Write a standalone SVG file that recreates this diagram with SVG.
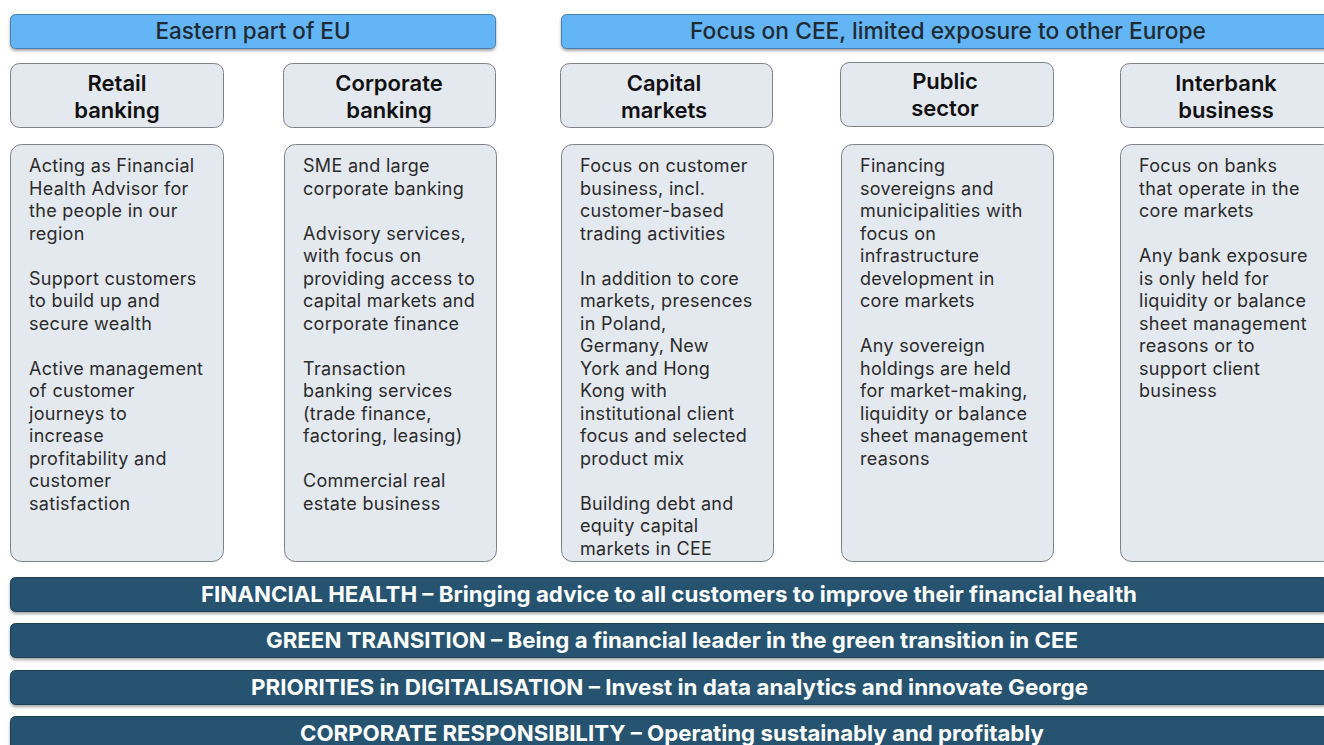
<svg xmlns="http://www.w3.org/2000/svg" width="1324" height="745" viewBox="0 0 1324 745">
<defs>
<filter id="sh" x="-5%" y="-30%" width="110%" height="180%">
<feDropShadow dx="0" dy="2" stdDeviation="1.5" flood-color="#000" flood-opacity="0.35"/>
</filter>
</defs>
<style>
.hdr{fill:#64b5f6;stroke:#4b7fae;stroke-width:1;filter:url(#sh)}
.hdrt{font-family:Inter,"Liberation Sans",sans-serif;font-size:22.5px;font-weight:500;fill:#1f2a33;text-anchor:middle}
.ttl{fill:#e4e8ef;stroke:#7d8288;stroke-width:1}
.ttlt{font-family:Inter,"Liberation Sans",sans-serif;font-size:22px;font-weight:600;fill:#111;text-anchor:middle}
.body{fill:#e4e8ef;stroke:#7d8288;stroke-width:1}
.bt{font-family:Inter,"Liberation Sans",sans-serif;font-size:18px;font-weight:400;fill:#2b2b2b;letter-spacing:0.3px}
.bar{fill:#25536f;stroke:#1d3f55;stroke-width:1;filter:url(#sh)}
.bart{font-family:Inter,"Liberation Sans",sans-serif;font-size:22px;font-weight:700;fill:#fff;text-anchor:middle}
</style>
<rect width="1324" height="745" fill="#fff"/>
<g id="hdr-eu">
<rect class="hdr" x="10.5" y="14.5" width="485" height="34" rx="5"/>
<text class="hdrt" x="253" y="39" textLength="195" lengthAdjust="spacingAndGlyphs">Eastern part of EU</text>
</g>
<g id="hdr-cee">
<rect class="hdr" x="561.5" y="14.5" width="775" height="34" rx="5"/>
<text class="hdrt" x="948" y="39" textLength="516" lengthAdjust="spacingAndGlyphs">Focus on CEE, limited exposure to other Europe</text>
</g>
<g id="t-retail">
<rect class="ttl" x="10.5" y="63.5" width="213" height="64" rx="9"/>
<text class="ttlt" x="117" y="90.5">Retail</text><text class="ttlt" x="117" y="117.5">banking</text>
</g>
<g id="t-corp">
<rect class="ttl" x="283.5" y="63.5" width="212" height="64" rx="9"/>
<text class="ttlt" x="389" y="90.5">Corporate</text><text class="ttlt" x="389" y="117.5">banking</text>
</g>
<g id="t-cap">
<rect class="ttl" x="560.5" y="63.5" width="212" height="64" rx="9"/>
<text class="ttlt" x="664" y="90.5">Capital</text><text class="ttlt" x="664" y="117.5">markets</text>
</g>
<g id="t-pub">
<rect class="ttl" x="840.5" y="62.5" width="213" height="64" rx="9"/>
<text class="ttlt" x="945" y="88.5">Public</text><text class="ttlt" x="945" y="115.5">sector</text>
</g>
<g id="t-inter">
<rect class="ttl" x="1120.5" y="63.5" width="213" height="64" rx="9"/>
<text class="ttlt" x="1226" y="90.5">Interbank</text><text class="ttlt" x="1226" y="117.5">business</text>
</g>
<g id="b-retail">
<rect class="body" x="10.5" y="144.5" width="213" height="417" rx="11"/>
<text class="bt" x="29" y="172"><tspan x="29">Acting as Financial</tspan><tspan x="29" dy="22.5">Health Advisor for</tspan><tspan x="29" dy="22.5">the people in our</tspan><tspan x="29" dy="22.5">region</tspan><tspan x="29" dy="45">Support customers</tspan><tspan x="29" dy="22.5">to build up and</tspan><tspan x="29" dy="22.5">secure wealth</tspan><tspan x="29" dy="45">Active management</tspan><tspan x="29" dy="22.5">of customer</tspan><tspan x="29" dy="22.5">journeys to</tspan><tspan x="29" dy="22.5">increase</tspan><tspan x="29" dy="22.5">profitability and</tspan><tspan x="29" dy="22.5">customer</tspan><tspan x="29" dy="22.5">satisfaction</tspan></text>
</g>
<g id="b-corp">
<rect class="body" x="284.5" y="144.5" width="212" height="417" rx="11"/>
<text class="bt" x="303" y="172"><tspan x="303">SME and large</tspan><tspan x="303" dy="22.5">corporate banking</tspan><tspan x="303" dy="45">Advisory services,</tspan><tspan x="303" dy="22.5">with focus on</tspan><tspan x="303" dy="22.5">providing access to</tspan><tspan x="303" dy="22.5">capital markets and</tspan><tspan x="303" dy="22.5">corporate finance</tspan><tspan x="303" dy="45">Transaction</tspan><tspan x="303" dy="22.5">banking services</tspan><tspan x="303" dy="22.5">(trade finance,</tspan><tspan x="303" dy="22.5">factoring, leasing)</tspan><tspan x="303" dy="45">Commercial real</tspan><tspan x="303" dy="22.5">estate business</tspan></text>
</g>
<g id="b-cap">
<rect class="body" x="561.5" y="144.5" width="212" height="417" rx="11"/>
<text class="bt" x="580" y="172"><tspan x="580">Focus on customer</tspan><tspan x="580" dy="22.5">business, incl.</tspan><tspan x="580" dy="22.5">customer-based</tspan><tspan x="580" dy="22.5">trading activities</tspan><tspan x="580" dy="45">In addition to core</tspan><tspan x="580" dy="22.5">markets, presences</tspan><tspan x="580" dy="22.5">in Poland,</tspan><tspan x="580" dy="22.5">Germany, New</tspan><tspan x="580" dy="22.5">York and Hong</tspan><tspan x="580" dy="22.5">Kong with</tspan><tspan x="580" dy="22.5">institutional client</tspan><tspan x="580" dy="22.5">focus and selected</tspan><tspan x="580" dy="22.5">product mix</tspan><tspan x="580" dy="45">Building debt and</tspan><tspan x="580" dy="22.5">equity capital</tspan><tspan x="580" dy="22.5">markets in CEE</tspan></text>
</g>
<g id="b-pub">
<rect class="body" x="841.5" y="144.5" width="212" height="417" rx="11"/>
<text class="bt" x="860" y="172"><tspan x="860">Financing</tspan><tspan x="860" dy="22.5">sovereigns and</tspan><tspan x="860" dy="22.5">municipalities with</tspan><tspan x="860" dy="22.5">focus on</tspan><tspan x="860" dy="22.5">infrastructure</tspan><tspan x="860" dy="22.5">development in</tspan><tspan x="860" dy="22.5">core markets</tspan><tspan x="860" dy="45">Any sovereign</tspan><tspan x="860" dy="22.5">holdings are held</tspan><tspan x="860" dy="22.5">for market-making,</tspan><tspan x="860" dy="22.5">liquidity or balance</tspan><tspan x="860" dy="22.5">sheet management</tspan><tspan x="860" dy="22.5">reasons</tspan></text>
</g>
<g id="b-inter">
<rect class="body" x="1120.5" y="144.5" width="213" height="417" rx="11"/>
<text class="bt" x="1139" y="172"><tspan x="1139">Focus on banks</tspan><tspan x="1139" dy="22.5">that operate in the</tspan><tspan x="1139" dy="22.5">core markets</tspan><tspan x="1139" dy="45">Any bank exposure</tspan><tspan x="1139" dy="22.5">is only held for</tspan><tspan x="1139" dy="22.5">liquidity or balance</tspan><tspan x="1139" dy="22.5">sheet management</tspan><tspan x="1139" dy="22.5">reasons or to</tspan><tspan x="1139" dy="22.5">support client</tspan><tspan x="1139" dy="22.5">business</tspan></text>
</g>
<g id="bar-fh">
<rect class="bar" x="10.5" y="577.5" width="1318" height="34" rx="5"/>
<text class="bart" x="669" y="602" textLength="936" lengthAdjust="spacingAndGlyphs">FINANCIAL HEALTH – Bringing advice to all customers to improve their financial health</text>
</g>
<g id="bar-gt">
<rect class="bar" x="10.5" y="623.5" width="1318" height="34" rx="5"/>
<text class="bart" x="672" y="648" textLength="812" lengthAdjust="spacingAndGlyphs">GREEN TRANSITION – Being a financial leader in the green transition in CEE</text>
</g>
<g id="bar-pd">
<rect class="bar" x="10.5" y="670.5" width="1318" height="34" rx="5"/>
<text class="bart" x="669.5" y="695" textLength="837" lengthAdjust="spacingAndGlyphs">PRIORITIES in DIGITALISATION – Invest in data analytics and innovate George</text>
</g>
<g id="bar-cr">
<rect class="bar" x="10.5" y="716.5" width="1318" height="34" rx="5"/>
<text class="bart" x="672" y="741" textLength="744" lengthAdjust="spacingAndGlyphs">CORPORATE RESPONSIBILITY – Operating sustainably and profitably</text>
</g>
<g id="connectors"/>
</svg>
